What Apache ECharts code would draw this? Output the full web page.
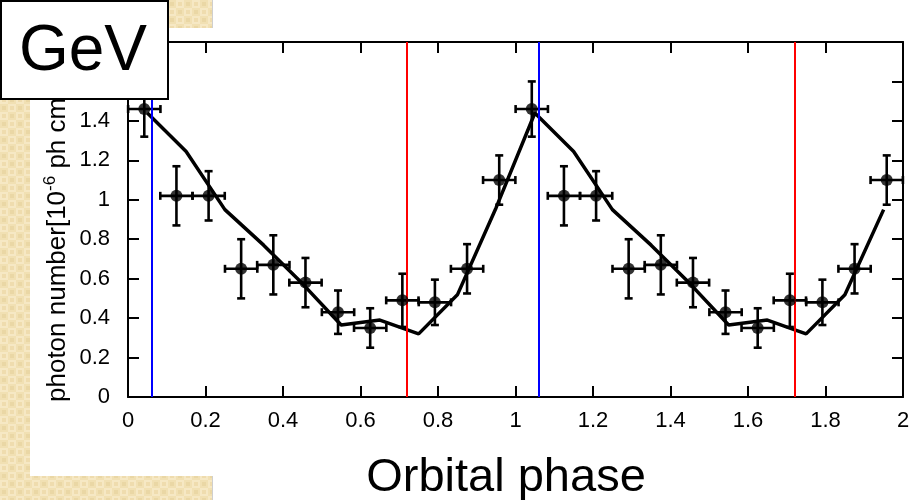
<!DOCTYPE html>
<html>
<head>
<meta charset="utf-8">
<script src="https://cdn.jsdelivr.net/npm/echarts@6/dist/echarts.min.js"></script>
<style>
  html, body { margin: 0; padding: 0; background: #fff; }
  #chart { width: 912px; height: 500px; }
</style>
</head>
<body>
<div id="chart"></div>
<script>
// Binned GeV light curve folded on orbital phase (two cycles shown)
const binPhase = [0.042, 0.125, 0.208, 0.292, 0.375, 0.458, 0.542, 0.625, 0.708, 0.792, 0.875, 0.958,
                  1.042, 1.125, 1.208, 1.292, 1.375, 1.458, 1.542, 1.625, 1.708, 1.792, 1.875, 1.958];
const binFlux  = [1.46, 1.02, 1.02, 0.65, 0.67, 0.58, 0.43, 0.35, 0.49, 0.48, 0.65, 1.10,
                  1.46, 1.02, 1.02, 0.65, 0.67, 0.58, 0.43, 0.35, 0.49, 0.48, 0.65, 1.10];
const binFluxErr = [0.14, 0.15, 0.125, 0.15, 0.15, 0.125, 0.11, 0.10, 0.135, 0.115, 0.125, 0.125,
                    0.14, 0.15, 0.125, 0.15, 0.15, 0.125, 0.11, 0.10, 0.135, 0.115, 0.125, 0.125];
const binHalfWidth = 0.0417;

// Model curve
const modelPhase = [0.05, 0.15, 0.25, 0.35, 0.45, 0.55, 0.65, 0.75, 0.85, 0.95,
                    1.05, 1.15, 1.25, 1.35, 1.45, 1.55, 1.65, 1.75, 1.85, 1.95];
const modelFlux  = [1.44, 1.245, 0.95, 0.77, 0.575, 0.365, 0.39, 0.32, 0.518, 0.96,
                    1.44, 1.245, 0.95, 0.77, 0.575, 0.365, 0.39, 0.32, 0.518, 0.95];

// Reference phases
const bluePhases = [0.057, 1.057];
const redPhases  = [0.716, 1.716];

const xTicks = { min: 0, max: 2, interval: 0.2 };
const yTicks = { min: 0, max: 1.8, interval: 0.2 };

const FONT = '"Liberation Sans", Arial, sans-serif';

// Checkered beige fill for the slide margin
function makeBeigePattern() {
  const c = document.createElement('canvas');
  c.width = 16; c.height = 16;
  const g = c.getContext('2d');
  g.fillStyle = '#f1e0b3'; g.fillRect(0, 0, 16, 16);
  g.fillStyle = '#f6e8c4'; g.fillRect(0, 0, 8, 8); g.fillRect(8, 8, 8, 8);
  g.fillStyle = '#ead7a5'; g.fillRect(2, 10, 4, 4); g.fillRect(10, 2, 4, 4);
  g.fillStyle = '#efdcae'; g.fillRect(2, 2, 4, 4); g.fillRect(10, 10, 4, 4);
  return c;
}
const beige = { image: makeBeigePattern(), repeat: 'repeat' };

const errData = binPhase.map((p, i) => [p, binFlux[i], binHalfWidth, binFluxErr[i]]);
const ptData = binPhase.map((p, i) => [p, binFlux[i]]);
const modelData = modelPhase.map((p, i) => [p, modelFlux[i]]);

const chart = echarts.init(document.getElementById('chart'), null, { renderer: 'canvas' });

const axisLine = { onZero: false, lineStyle: { color: '#000', width: 2 } };
const axisTick = { inside: true, length: 11, lineStyle: { color: '#000', width: 2 } };

chart.setOption({
  animation: false,
  backgroundColor: '#fff',
  grid: { left: 128, right: 9, top: 42, bottom: 103, containLabel: false, outerBoundsMode: 'none' },
  xAxis: [
    {
      type: 'value', position: 'bottom', ...xTicks,
      axisLine, axisTick,
      splitLine: { show: false },
      axisLabel: { margin: 13, color: '#000', fontSize: 22, fontFamily: FONT },
      name: 'Orbital phase', nameLocation: 'middle', nameGap: 58,
      nameTextStyle: { fontSize: 47, color: '#000', fontFamily: FONT, padding: [0, 19, 0, 0] }
    },
    {
      type: 'value', position: 'top', ...xTicks,
      axisLine, axisTick, axisLabel: { show: false }, splitLine: { show: false }
    }
  ],
  yAxis: [
    {
      type: 'value', position: 'left', ...yTicks,
      axisLine, axisTick, splitLine: { show: false },
      axisLabel: { margin: 18, color: '#000', fontSize: 22, fontFamily: FONT }
    },
    {
      type: 'value', position: 'right', ...yTicks,
      axisLine, axisTick, axisLabel: { show: false }, splitLine: { show: false }
    }
  ],
  series: [
    {
      name: 'model', type: 'line', data: modelData, symbol: 'none',
      lineStyle: { color: '#000', width: 3.5 }, z: 3
    },
    {
      name: 'errors', type: 'custom', data: errData, z: 4,
      renderItem: function (params, api) {
        const x = api.value(0), y = api.value(1), dx = api.value(2), dy = api.value(3);
        const pL = api.coord([x - dx, y]), pR = api.coord([x + dx, y]);
        const pT = api.coord([x, y + dy]), pB = api.coord([x, y - dy]);
        const cap = 4;
        const st = { stroke: '#000', lineWidth: 2.6 };
        const seg = (x1, y1, x2, y2) => ({ type: 'line', shape: { x1, y1, x2, y2 }, style: st });
        return {
          type: 'group',
          children: [
            seg(pL[0], pL[1], pR[0], pR[1]),
            seg(pL[0], pL[1] - cap, pL[0], pL[1] + cap),
            seg(pR[0], pR[1] - cap, pR[0], pR[1] + cap),
            seg(pT[0], pT[1], pB[0], pB[1]),
            seg(pT[0] - cap, pT[1], pT[0] + cap, pT[1]),
            seg(pB[0] - cap, pB[1], pB[0] + cap, pB[1])
          ]
        };
      }
    },
    {
      name: 'flux', type: 'scatter', data: ptData, symbol: 'circle', symbolSize: 12,
      itemStyle: { color: '#000' }, z: 5
    },
    {
      name: 'markers', type: 'line', data: [], z: 6,
      markLine: {
        silent: true, symbol: 'none', label: { show: false },
        data: bluePhases.map(p => ({ xAxis: p, lineStyle: { color: '#0000ff', width: 2, type: 'solid' } }))
          .concat(redPhases.map(p => ({ xAxis: p, lineStyle: { color: '#ff0000', width: 2, type: 'solid' } })))
      }
    }
  ],
  graphic: [
    { type: 'rect', z: 50, shape: { x: 0, y: 0, width: 30, height: 500 }, style: { fill: beige } },
    { type: 'rect', z: 50, shape: { x: 0, y: 0, width: 212, height: 28 }, style: { fill: beige } },
    { type: 'rect', z: 50, shape: { x: 0, y: 476, width: 212, height: 24 }, style: { fill: beige } },
    { type: 'line', z: 51, shape: { x1: 212.5, y1: 0, x2: 212.5, y2: 28 }, style: { stroke: '#cfcfcf', lineWidth: 1 } },
    { type: 'line', z: 51, shape: { x1: 212.5, y1: 476, x2: 212.5, y2: 500 }, style: { stroke: '#cfcfcf', lineWidth: 1 } },
    // y-axis title, reading bottom to top
    {
      type: 'text', z: 40, x: 58, y: 402, rotation: Math.PI / 2,
      style: {
        text: 'photon number[10{s|-6} ph cm{s|-2} s{s|-1}]',
        fill: '#000', fontSize: 26, fontFamily: FONT, lineHeight: 32,
        align: 'left', verticalAlign: 'middle',
        rich: { s: { fontSize: 17, verticalAlign: 'top', lineHeight: 32, fill: '#000', fontFamily: FONT } }
      }
    },
    {
      type: 'rect', z: 60, shape: { x: 1, y: 1, width: 167, height: 98 },
      style: { fill: '#fff', stroke: '#000', lineWidth: 2 }
    },
    {
      type: 'text', z: 61, x: 83, y: 52,
      style: {
        text: 'GeV', fill: '#000', fontSize: 64, fontFamily: FONT,
        align: 'center', verticalAlign: 'middle'
      }
    }
  ]
});
</script>
</body>
</html>
